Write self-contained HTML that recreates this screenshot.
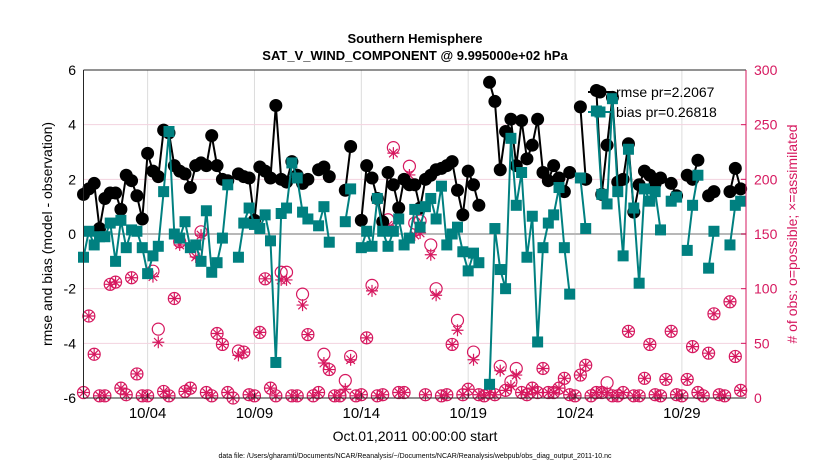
<!DOCTYPE html>
<html><head><meta charset="utf-8">
<style>
html,body{margin:0;padding:0;background:#fff;}
svg{display:block;font-family:"Liberation Sans",Arial,sans-serif;}
</style></head>
<body>
<svg id="chart" width="830" height="470" viewBox="0 0 830 470" xmlns="http://www.w3.org/2000/svg">
<rect width="830" height="470" fill="#fff"/>
<g id="grid"></g>
<g id="obs"></g>
<g id="series"></g>
<g id="axes"></g>
<text x="415" y="43" text-anchor="middle" font-size="13" font-weight="bold">Southern Hemisphere</text>
<text x="415" y="60" text-anchor="middle" font-size="13" font-weight="bold">SAT_V_WIND_COMPONENT @ 9.995000e+02 hPa</text>
<text transform="translate(52,234) rotate(-90)" text-anchor="middle" font-size="14">rmse and bias (model - observation)</text>
<text transform="translate(797,234) rotate(-90)" text-anchor="middle" font-size="14" fill="#d6185f"># of obs: o=possible; ×=assimilated</text>
<text x="415" y="441" text-anchor="middle" font-size="14">Oct.01,2011 00:00:00 start</text>
<text x="415" y="458" text-anchor="middle" font-size="7">data file: /Users/gharamti/Documents/NCAR/Reanalysis/~/Documents/NCAR/Reanalysis/webpub/obs_diag_output_2011-10.nc</text>
<g id="legend"></g>
</svg>
<script>
const dayTicks = [3, 8, 13, 18, 23, 28];
const dayTickLabels = ["10/04", "10/09", "10/14", "10/19", "10/24", "10/29"];
const leftTicks = [-6, -4, -2, 0, 2, 4, 6];
const rightTicks = [0, 50, 100, 150, 200, 250, 300];
const rmse = [1.45,1.65,1.85,0.2,1.3,1.5,1.5,0.9,2.15,1.95,
1.4,0.55,2.95,2.3,2.1,3.8,3.7,2.5,2.3,2.2,
1.7,2.5,2.6,2.5,3.6,2.5,2.0,1.95,null,2.2,
2.1,2.05,0.5,2.45,2.3,2.05,4.7,2.0,1.9,2.65,
2.15,1.85,2.0,null,2.35,2.45,2.1,null,null,1.6,
3.2,null,0.5,2.5,2.05,1.3,0.45,2.25,1.8,0.95,
2.0,1.8,1.8,0.95,2.0,2.15,2.35,2.4,2.5,2.65,
1.6,0.7,2.3,1.8,1.05,null,5.55,4.85,2.35,3.75,
4.2,2.5,4.15,2.75,3.25,4.2,2.25,1.95,2.5,2.05,
1.55,2.25,null,4.65,2.0,null,5.25,1.45,3.25,5.0,
1.9,2.0,3.3,0.8,1.8,2.3,2.15,1.85,2.05,null,
1.85,1.4,null,2.15,2.0,2.7,null,1.4,1.55,null,
null,1.55,2.4,1.65];
const bias = [-0.85,0.1,-0.4,-0.1,-0.1,0.4,-1.0,0.5,-0.5,0.15,
0.1,-0.5,-1.45,-0.8,-0.45,1.55,3.75,0.0,-0.15,0.45,
-0.5,-0.4,-1.0,0.85,-1.4,-1.05,-0.15,1.8,null,-0.85,
0.4,0.95,0.35,0.2,0.7,-0.25,-4.7,0.75,0.95,2.6,
2.05,0.8,0.55,null,0.3,1.0,-0.3,null,null,0.45,
1.65,null,-0.5,0.1,-0.45,1.3,0.1,-0.45,0.1,0.55,
-0.4,-0.15,0.9,0.25,1.0,1.3,0.55,1.75,-0.4,0.0,
0.25,-0.65,-1.35,-0.7,-1.05,null,-5.5,0.2,-1.3,-2.0,
3.5,1.05,2.25,-0.85,0.65,-3.95,-0.5,0.4,0.7,1.7,
-0.5,-2.2,null,2.05,0.2,null,4.5,1.45,1.1,4.95,
1.55,-0.8,3.1,0.95,-1.8,1.65,1.2,1.55,0.15,null,
1.2,1.35,null,-0.6,1.05,2.15,null,-1.25,0.1,null,
null,-0.4,1.05,1.2];
const possible = [5,75,40,2,2,104,106,9,3,110,
22,2,2,116,63,6,2,91,143,6,
9,133,152,5,2,59,49,5,0,43,
42,3,2,60,109,9,2,115,115,2,
2,95,58,2,5,40,26,2,2,16,
38,2,3,55,103,2,3,163,229,5,
5,212,160,162,3,140,100,2,3,49,
71,3,8,42,3,2,5,3,29,7,
15,27,5,3,9,5,27,5,5,9,
18,3,2,21,30,2,5,5,14,2,
2,5,61,2,2,18,49,3,2,17,
61,3,2,17,47,5,2,41,77,3,
2,88,38,7];
const assimilated = [5,75,40,2,2,104,106,9,3,110,
22,2,2,111,51,6,2,91,140,6,
9,129,149,5,2,59,49,5,0,39,
42,3,2,60,109,9,2,108,108,2,
2,85,58,2,5,32,26,2,2,8,
35,2,3,55,98,2,3,158,224,5,
5,204,149,151,3,131,94,2,3,49,
62,3,8,35,3,2,5,3,25,7,
11,21,5,3,9,5,27,5,5,9,
18,3,2,21,30,2,5,5,5,2,
2,5,61,2,2,18,49,3,2,17,
61,3,2,17,47,5,2,41,77,3,
2,88,38,7];

const NS = "http://www.w3.org/2000/svg";
const PL = 83.5, PR = 746, PT = 70, PB = 398;
const xDay = d => PL + (PR - PL) * d / 31;
const xIdx = i => xDay(i / 4);
const yL = v => PB - (PB - PT) * (v + 6) / 12;
const yR = v => PB - (PB - PT) * v / 300;
const RED = "#d6185f", TEAL = "#008080";
function mk(tag, attrs, parent) {
  const e = document.createElementNS(NS, tag);
  for (const k in attrs) e.setAttribute(k, attrs[k]);
  parent.appendChild(e);
  return e;
}
const grid = document.getElementById('grid');
const axes = document.getElementById('axes');
const obsG = document.getElementById('obs');
const ser = document.getElementById('series');
const leg = document.getElementById('legend');

dayTicks.forEach((d, k) => {
  const l = mk('line', {x1: xDay(d), x2: xDay(d), y1: PT, y2: PB, stroke: '#dcdcdc', 'stroke-width': 1}, grid);
  
  
  const t = mk('text', {x: xDay(d), y: 418, 'text-anchor': 'middle', 'font-size': 15}, axes);
  t.textContent = dayTickLabels[k];
  
  
  const tk = mk('line', {x1: xDay(d), x2: xDay(d), y1: PB, y2: PB - 5, stroke: '#262626'}, axes);
  
  
});
leftTicks.forEach(v => {
  if (v !== -6 && v !== 6 && v !== 0) {
    const l = mk('line', {x1: PL, x2: PR, y1: yL(v), y2: yL(v), stroke: '#f3d3df', 'stroke-width': 1}, grid);
    
    
  }
  const t = mk('text', {x: 76, y: yL(v) + 5, 'text-anchor': 'end', 'font-size': 14}, axes);
  t.textContent = v;
  
  
});
rightTicks.forEach(v => {
  const t = mk('text', {x: 754, y: yR(v) + 5, 'text-anchor': 'start', 'font-size': 14, fill: RED}, axes);
  t.textContent = v;
  
  
  const tk = mk('line', {x1: PR, x2: PR - 5, y1: yR(v), y2: yR(v), stroke: RED}, axes);
  
  
});
const zl = mk('line', {x1: PL, x2: PR, y1: yL(0), y2: yL(0), stroke: '#b8b8b8', 'stroke-width': 2}, grid);



const frame = [[PL, PT, PR, PT, '#262626'], [PL, PB, PR, PB, '#262626'], [PL, PT, PL, PB, '#262626'], [PR, PT, PR, PB, RED]];
frame.forEach(f => {
  const l = mk('line', {x1: f[0], y1: f[1], x2: f[2], y2: f[3], stroke: f[4], 'stroke-width': 1}, axes);
  
  
});

function star(cx, cy, r, parent) {
  let d = '';
  for (let a = 0; a < 4; a++) {
    const ang = a * Math.PI / 4;
    const dx = r * Math.cos(ang), dy = r * Math.sin(ang);
    d += `M${cx - dx},${cy - dy}L${cx + dx},${cy + dy}`;
  }
  return mk('path', {d: d, stroke: RED, 'stroke-width': 1.2, fill: 'none'}, parent);
}
possible.forEach((v, i) => {
  const c = mk('circle', {cx: xIdx(i), cy: yR(v), r: 6, fill: 'none', stroke: RED, 'stroke-width': 1.2}, obsG);
  
  
});
assimilated.forEach((v, i) => {
  const s = star(xIdx(i), yR(v), 6, obsG);
  
  
});

function linePath(arr) {
  let d = '', pen = false;
  arr.forEach((v, i) => {
    if (v === null) { pen = false; return; }
    d += (pen ? 'L' : 'M') + xIdx(i) + ',' + yL(v);
    pen = true;
  });
  return d;
}
const pr = mk('path', {d: linePath(rmse), stroke: '#000', 'stroke-width': 2, fill: 'none'}, ser);


rmse.forEach((v, i) => {
  if (v === null) return;
  const c = mk('circle', {cx: xIdx(i), cy: yL(v), r: 6.5, fill: '#000'}, ser);
  
  
});
const pb = mk('path', {d: linePath(bias), stroke: TEAL, 'stroke-width': 2, fill: 'none'}, ser);


bias.forEach((v, i) => {
  if (v === null) return;
  const r = mk('rect', {x: xIdx(i) - 5.5, y: yL(v) - 5.5, width: 11, height: 11, fill: TEAL}, ser);
  
  
});

// legend
const l1 = mk('line', {x1: 588, x2: 612, y1: 92, y2: 92, stroke: '#000', 'stroke-width': 2}, leg);


const c1 = mk('circle', {cx: 600, cy: 92, r: 6.5, fill: '#000'}, leg);


const t1 = mk('text', {x: 616, y: 97, 'font-size': 14}, leg);
t1.textContent = 'rmse pr=2.2067';


const l2 = mk('line', {x1: 588, x2: 612, y1: 112, y2: 112, stroke: TEAL, 'stroke-width': 2}, leg);


const r2 = mk('rect', {x: 594.5, y: 106.5, width: 11, height: 11, fill: TEAL}, leg);


const t2 = mk('text', {x: 616, y: 117, 'font-size': 14}, leg);
t2.textContent = 'bias pr=0.26818';


</script>
</body></html>
